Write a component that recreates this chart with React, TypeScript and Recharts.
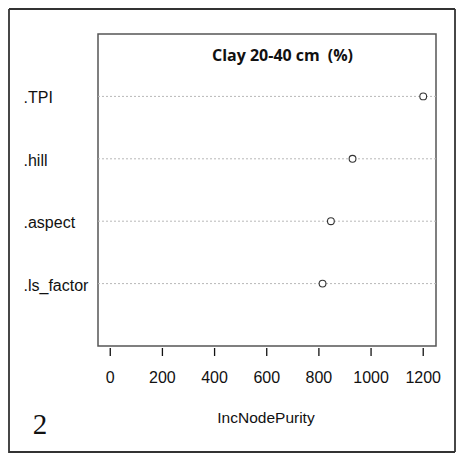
import React from 'react';
import { ScatterChart, Scatter, XAxis, YAxis, ReferenceLine, ReferenceArea, Customized } from 'recharts';

const variables = ['.ls_factor', '.aspect', '.hill', '.TPI'];
const rankPositions = [1, 2, 3, 4];
const incNodePurity = [814, 846, 929, 1200];
const xTicks = [0, 200, 400, 600, 800, 1000, 1200];
const chartTitle = 'Clay 20-40 cm';
const titleUnit = '(%)';
const xLabel = 'IncNodePurity';
const panelLabel = '2';

const data = variables.map((name, i) => ({ name, y: rankPositions[i], x: incNodePurity[i] }));

const FONT = '"Liberation Sans", Arial, sans-serif';

const XTick = (props: any) => {
  const { x, payload } = props;
  const base = 346;
  return (
    <g>
      <line x1={x} x2={x} y1={base + 2} y2={base + 10} stroke="#111" strokeWidth={1.3} />
      <text x={x} y={base + 31} textAnchor="middle" dominantBaseline="central" fontFamily={FONT} fontSize={16} fill="#111">
        {payload.value}
      </text>
    </g>
  );
};

const YTick = (props: any) => {
  const { y, payload } = props;
  const idx = rankPositions.indexOf(payload.value);
  return (
    <text x={23.5} y={y + 1.5} textAnchor="start" dominantBaseline="central" fontFamily={FONT} fontSize={16} fill="#111">
      {idx >= 0 ? variables[idx] : ''}
    </text>
  );
};

const Dot = (props: any) => {
  const { cx, cy } = props;
  return <circle cx={cx} cy={cy} r={3.4} fill="#fff" stroke="#333" strokeWidth={1.1} />;
};

const XLabel = (props: any) => {
  const vb = props.viewBox || {};
  return (
    <text x={vb.x + vb.width / 2 - 1} y={417} textAnchor="middle" dominantBaseline="central" fontFamily={FONT} fontSize={15.5} fill="#111">
      {xLabel}
    </text>
  );
};

const Decorations = () => (
  <g>
    <path d="M9,9 H455 M9,9 V452 H455" fill="none" stroke="#333" strokeWidth={1.8} />
    <path d="M455,9 V452" fill="none" stroke="#333" strokeWidth={1.8} />
    <text x={282.5} y={54.5} textAnchor="middle" dominantBaseline="central" fontFamily='"Open Sans", "Noto Sans", sans-serif' fontWeight={700} fontSize={16} fill="#111">
      {chartTitle}
      <tspan dx={8}>{titleUnit}</tspan>
    </text>
    <text x={40} y={424} textAnchor="middle" dominantBaseline="central" fontFamily='"Liberation Serif", "DejaVu Serif", serif' fontSize={29} fill="#111">
      {panelLabel}
    </text>
  </g>
);

export default function App() {
  return (
    <div style={{ position: 'relative', width: 464, height: 457, margin: '-8px -8px 0 -8px', background: '#fff' }}>
      <ScatterChart width={464} height={457} margin={{ top: 34, right: 28, bottom: 0, left: 0 }}>
        <XAxis
          type="number"
          dataKey="x"
          domain={[-47, 1249]}
          ticks={xTicks}
          axisLine={false}
          tickLine={false}
          tickSize={0}
          tick={<XTick />}
          height={111}
          interval={0}
          label={<XLabel />}
        />
        <YAxis
          type="number"
          dataKey="y"
          domain={[0, 5]}
          ticks={rankPositions}
          axisLine={false}
          tickLine={false}
          tick={<YTick />}
          width={98}
          interval={0}
        />
        {rankPositions.map((p) => (
          <ReferenceLine key={p} y={p} stroke="#b8b8b8" strokeDasharray="2 2" strokeWidth={1} />
        ))}
        <ReferenceArea x1={-47} x2={1249} y1={0} y2={5} fill="none" fillOpacity={0} stroke="#555" strokeWidth={1.5} />
        <Scatter data={data} shape={<Dot />} isAnimationActive={false} />
        <Customized component={Decorations} />
      </ScatterChart>
    </div>
  );
}
